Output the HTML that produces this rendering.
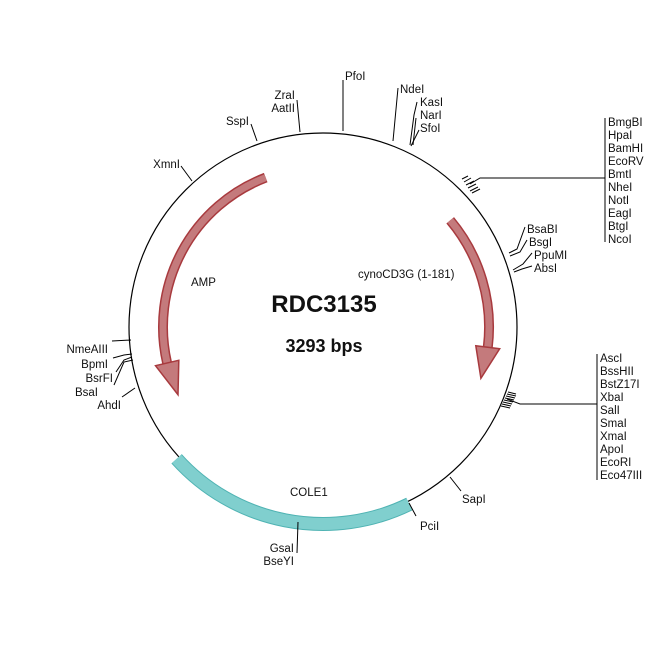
<!DOCTYPE html>
<html><head><meta charset="utf-8"><style>
html,body{margin:0;padding:0;background:#fff;}
svg{display:block;}
text{font-family:"Liberation Sans",Arial,sans-serif;font-size:11.5px;fill:#111;}
</style></head><body>
<svg width="650" height="650" viewBox="0 0 650 650">
<circle cx="323" cy="327" r="194" fill="none" stroke="#000" stroke-width="1.2"/>

<!-- AMP arrow -->
<path d="M265.7,177.6 A160,160 0 0 0 167.1,363" fill="none" stroke="#a83a3e" stroke-width="10"/>
<path d="M265.7,177.6 A160,160 0 0 0 167.1,363" fill="none" stroke="#c47a7c" stroke-width="7"/>
<polygon points="155.5,365.7 178,394.7 178.8,360.3" fill="#c47a7c" stroke="#a83a3e" stroke-width="1.5"/>
<!-- cynoCD3G arrow -->
<path d="M450.2,220.3 A166,166 0 0 1 487.8,347.2" fill="none" stroke="#a83a3e" stroke-width="10"/>
<path d="M450.2,220.3 A166,166 0 0 1 487.8,347.2" fill="none" stroke="#c47a7c" stroke-width="7"/>
<polygon points="499.7,348.7 480.9,378.3 475.8,345.8" fill="#c47a7c" stroke="#a83a3e" stroke-width="1.5"/>
<!-- COLE1 -->
<path d="M409.3,504.1 A197,197 0 0 1 176.6,458.8" fill="none" stroke="#4fb3b3" stroke-width="14"/>
<path d="M409.3,504.1 A197,197 0 0 1 176.6,458.8" fill="none" stroke="#80cfce" stroke-width="12"/>

<text x="324" y="312" text-anchor="middle" style="font-size:24px;font-weight:bold">RDC3135</text>
<text x="324" y="352" text-anchor="middle" style="font-size:18px;font-weight:bold">3293 bps</text>
<text x="191" y="286">AMP</text>
<text x="358" y="278">cynoCD3G (1-181)</text>
<text x="290" y="496">COLE1</text>

<g stroke="#000" stroke-width="1" fill="none">
<!-- top -->
<polyline points="251,124 257,141"/>
<polyline points="297,100 300,132"/>
<polyline points="343,80 343,131"/>
<polyline points="398,88 393,141"/>
<polyline points="417,102 414,115 410,145"/>
<polyline points="416,118 413,145"/>
<polyline points="419,130 411,146"/>
<!-- right cluster 1 -->
<line x1="462" y1="179" x2="468" y2="176"/>
<line x1="464" y1="182" x2="471" y2="178"/>
<line x1="466" y1="185" x2="474" y2="181"/>
<line x1="468" y1="188" x2="476" y2="184"/>
<line x1="470" y1="191" x2="478" y2="187"/>
<line x1="472" y1="193" x2="480" y2="189"/>
<polyline points="470,184 480,178 605,178"/>
<line x1="605" y1="118" x2="605" y2="242"/>
<!-- BsaBI etc -->
<polyline points="525,227 517,249 509,253"/>
<polyline points="527,240 520,252 510,256"/>
<polyline points="532,253 523,264 513,270"/>
<polyline points="532,266 522,269 514,272"/>
<!-- right cluster 2 -->
<line x1="508" y1="392" x2="516" y2="394"/>
<line x1="507" y1="394" x2="516" y2="396"/>
<line x1="506" y1="396" x2="515" y2="398"/>
<line x1="505" y1="398" x2="514" y2="400"/>
<line x1="504" y1="400" x2="513" y2="402"/>
<line x1="503" y1="402" x2="512" y2="404"/>
<line x1="502" y1="404" x2="511" y2="406"/>
<line x1="501" y1="406" x2="510" y2="408"/>
<polyline points="507,399 520,404 597,404"/>
<line x1="597" y1="354" x2="597" y2="480"/>
<!-- bottom -->
<polyline points="450,477 461,491"/>
<polyline points="409,503 416,516"/>
<polyline points="298,522 297,553"/>
<!-- left -->
<polyline points="181,166 192,181"/>
<polyline points="112,341 131,340"/>
<polyline points="113,358 124,355 132,354"/>
<polyline points="116,372 124,360 132,357"/>
<polyline points="114,385 124,362 133,360"/>
<polyline points="122,397 135,388"/>
</g>

<text x="249" y="125" text-anchor="end">SspI</text>
<text x="295" y="99" text-anchor="end">ZraI</text>
<text x="295" y="112" text-anchor="end">AatII</text>
<text x="345" y="80">PfoI</text>
<text x="400" y="93">NdeI</text>
<text x="420" y="106">KasI</text>
<text x="420" y="119">NarI</text>
<text x="420" y="132">SfoI</text>

<g>
<text x="608" y="126">BmgBI</text>
<text x="608" y="139">HpaI</text>
<text x="608" y="152">BamHI</text>
<text x="608" y="165">EcoRV</text>
<text x="608" y="178">BmtI</text>
<text x="608" y="191">NheI</text>
<text x="608" y="204">NotI</text>
<text x="608" y="217">EagI</text>
<text x="608" y="230">BtgI</text>
<text x="608" y="243">NcoI</text>
</g>
<text x="527" y="233">BsaBI</text>
<text x="529" y="246">BsgI</text>
<text x="534" y="259">PpuMI</text>
<text x="534" y="272">AbsI</text>

<g>
<text x="600" y="362">AscI</text>
<text x="600" y="375">BssHII</text>
<text x="600" y="388">BstZ17I</text>
<text x="600" y="401">XbaI</text>
<text x="600" y="414">SalI</text>
<text x="600" y="427">SmaI</text>
<text x="600" y="440">XmaI</text>
<text x="600" y="453">ApoI</text>
<text x="600" y="466">EcoRI</text>
<text x="600" y="479">Eco47III</text>
</g>
<text x="462" y="503">SapI</text>
<text x="420" y="530">PciI</text>
<text x="294" y="552" text-anchor="end">GsaI</text>
<text x="294" y="565" text-anchor="end">BseYI</text>

<text x="180" y="168" text-anchor="end">XmnI</text>
<text x="108" y="353" text-anchor="end">NmeAIII</text>
<text x="108" y="368" text-anchor="end">BpmI</text>
<text x="113" y="382" text-anchor="end">BsrFI</text>
<text x="98" y="396" text-anchor="end">BsaI</text>
<text x="121" y="409" text-anchor="end">AhdI</text>
</svg>
</body></html>
